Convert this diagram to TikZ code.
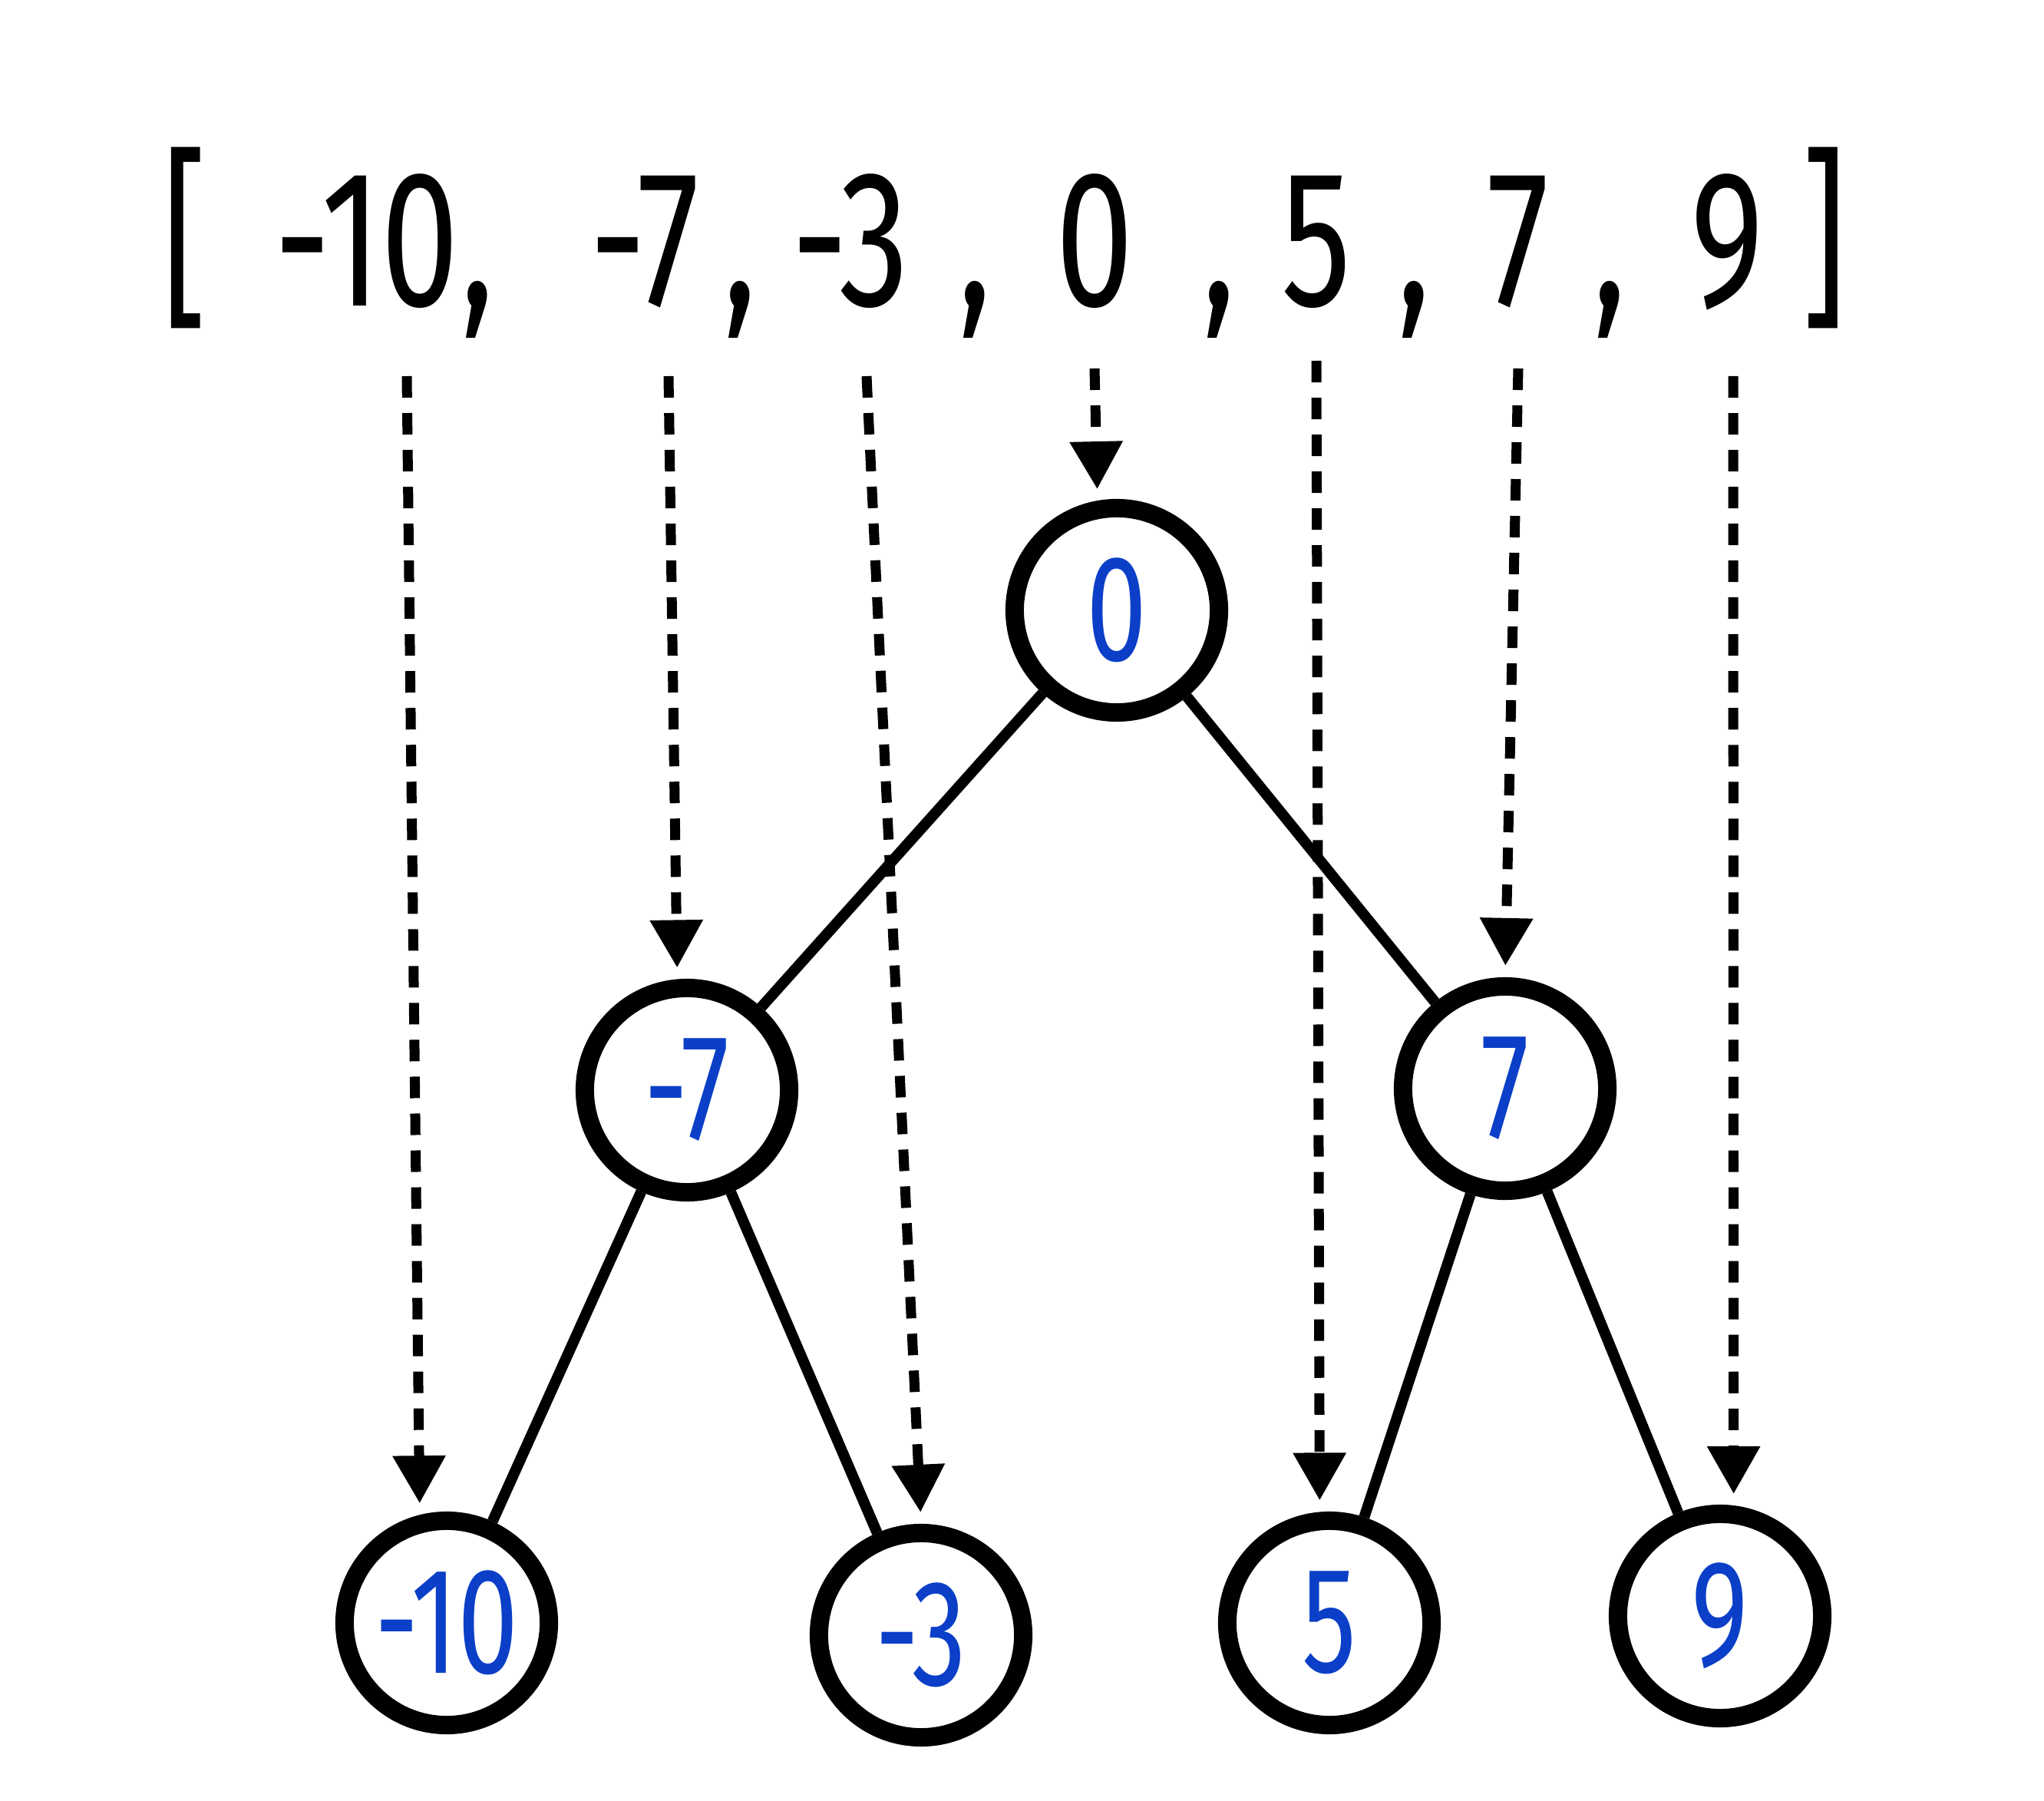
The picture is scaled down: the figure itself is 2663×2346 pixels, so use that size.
\documentclass[tikz,border=0pt]{standalone}
\usepackage{fontspec}
\setmainfont[FakeStretch=0.72]{Fira Sans}
\usetikzlibrary{arrows.meta}
\definecolor{penna}{HTML}{0B3FC8}

\begin{document}
\begin{tikzpicture}[x=0.01cm, y=-0.01cm]
	% Stili
	\tikzset{nodo/.style={circle, draw, line width=0.24cm, minimum size=2.66cm, inner sep=0pt, text=penna, font=\fontsize{56}{60}\selectfont},
		arco/.style={line width=0.14cm},
		freccia/.style={line width=0.13cm, dash pattern=on 0.28cm off 0.2cm, -{Triangle[length=0.62cm, width=0.66cm]}, shorten >=0.15cm},
		valore/.style={anchor=base, inner sep=0pt, font=\fontsize{72}{80}\selectfont}}
	\useasboundingbox (0,0) rectangle (2663,2346);

	% Vettore
	\node[valore] (aperta) at (241,399) {[};
	\node[valore] (v1) at (478,399) {-10};
	\node[valore] (c1) at (622,399) {,};
	\node[valore] (v2) at (840,399) {-7};
	\node[valore] (c2) at (964,399) {,};
	\node[valore] (v3) at (1108,399) {-3};
	\node[valore] (c3) at (1270,399) {,};
	\node[valore] (v4) at (1426,399) {0};
	\node[valore] (c4) at (1588,399) {,};
	\node[valore] (v5) at (1715,399) {5};
	\node[valore] (c5) at (1842,399) {,};
	\node[valore] (v6) at (1978,399) {7};
	\node[valore] (c6) at (2097,399) {,};
	\node[valore] (v7) at (2250,399) {9};
	\node[valore] (chiusa) at (2377,399) {]};

	% Nodi dell'albero
	\node[nodo] (n0) at (1455,795) {0};
	\node[nodo] (nm7) at (895,1420) {-7};
	\node[nodo] (n7) at (1961,1418) {7};
	\node[nodo] (nm10) at (582,2114) {-10};
	\node[nodo] (nm3) at (1200,2130) {-3};
	\node[nodo] (n5) at (1732,2114) {5};
	\node[nodo] (n9) at (2241,2105) {9};

	% Archi
	\draw[arco] (n0) -- (nm7);
	\draw[arco] (n0) -- (n7);
	\draw[arco] (nm7) -- (nm10);
	\draw[arco] (nm7) -- (nm3);
	\draw[arco] (n7) -- (n5);
	\draw[arco] (n7) -- (n9);

	% Frecce tratteggiate dal vettore ai nodi
	\coordinate (s1) at (530,490);
	\coordinate (s2) at (871,490);
	\coordinate (s3) at (1129,490);
	\coordinate (s4) at (1426,480);
	\coordinate (s5) at (1715,470);
	\coordinate (s6) at (1978,480);
	\coordinate (s7) at (2258,490);
	\draw[freccia] (s1) -- (nm10.104);
	\draw[freccia] (s2) -- (nm7.95);
	\draw[freccia] (s3) -- (nm3.90);
	\draw[freccia] (s4) -- (n0.100);
	\draw[freccia] (s5) -- (n5.95);
	\draw[freccia] (s6) -- (n7.90);
	\draw[freccia] (s7) -- (n9.83);
\end{tikzpicture}
\end{document}
